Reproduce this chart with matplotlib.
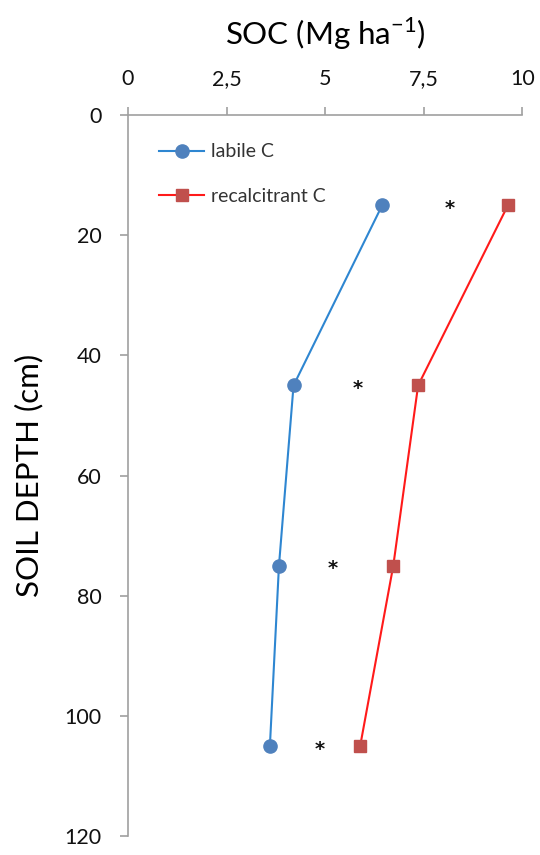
import matplotlib.pyplot as plt

plt.rcParams['font.family'] = ['Lato', 'DejaVu Sans']
plt.rcParams['mathtext.fontset'] = 'custom'
plt.rcParams['mathtext.rm'] = 'Lato'

# datos
depth = [15, 45, 75, 105]
labile_c = [6.45, 4.2, 3.83, 3.6]
recalcitrant_c = [9.64, 7.36, 6.73, 5.89]
star_x = [8.17, 5.84, 5.2, 4.87]
star_depth = [15, 45, 75, 105]
xticks = [0, 2.5, 5, 7.5, 10]
xtick_labels = ['0', '2,5', '5', '7,5', '10']
yticks = [0, 20, 40, 60, 80, 100, 120]

fig = plt.figure(figsize=(5.4, 8.55), dpi=100)
ax = fig.add_axes([0.237, 0.022, 0.730, 0.8435])

ax.plot(labile_c, depth, color='#2E86D1', lw=1.5, marker='o', ms=9.5,
        mfc='#4F81BD', mec='#4F81BD', label='labile C')
ax.plot(recalcitrant_c, depth, color='#FF1A1A', lw=1.5, marker='s', ms=9,
        mfc='#C0504D', mec='#C0504D', label='recalcitrant C')

for sx, sy in zip(star_x, star_depth):
    ax.text(sx, sy + 0.5, '*', ha='center', va='center', fontsize=14,
            family='DejaVu Sans', weight='bold', color='#111111')

ax.set_xlim(0, 10)
ax.set_ylim(120, 0)
ax.xaxis.tick_top()
ax.xaxis.set_label_position('top')
ax.set_xticks(xticks)
ax.set_xticklabels(xtick_labels)
ax.set_yticks(yticks)

for s in ['bottom', 'right']:
    ax.spines[s].set_visible(False)
for s in ['top', 'left']:
    ax.spines[s].set_color('#A0A0A0')
    ax.spines[s].set_linewidth(1.2)
ax.tick_params(axis='both', colors='#A0A0A0', length=6, width=1.2,
               labelsize=15.5, labelcolor='#111111')
ax.tick_params(axis='x', pad=13)
ax.tick_params(axis='y', pad=13)

ax.set_xlabel('SOC (Mg ha$^{\\mathrm{-1}}$)', fontsize=22.5, labelpad=17)
ax.set_ylabel('SOIL DEPTH (cm)', fontsize=22.5, labelpad=15)

leg = ax.legend(loc='upper left', bbox_to_anchor=(0.035, 0.985), frameon=False,
                fontsize=14, handlelength=2.3, labelspacing=1.4,
                handletextpad=0.35)
for t in leg.get_texts():
    t.set_color('#333333')

fig.savefig('out.png', dpi=100)
